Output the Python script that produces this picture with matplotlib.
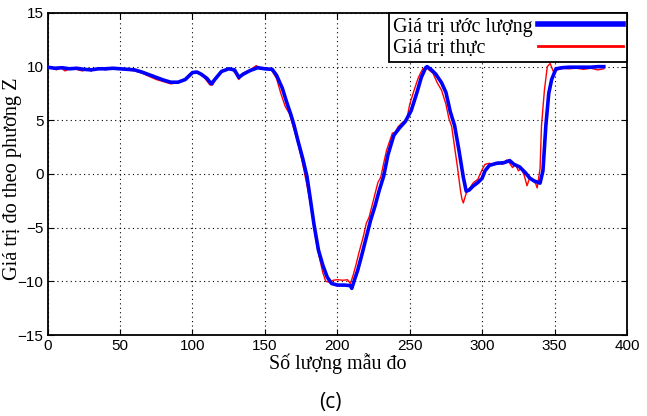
import matplotlib
matplotlib.use("Agg")
import matplotlib.pyplot as plt

# Estimated (blue) series: sample index, value
est_x = [0, 5, 10, 15, 20, 25, 30, 35, 40, 45, 50, 55, 60, 65, 70, 75, 80, 85, 90, 95,
         100, 103, 106, 110, 113, 116, 120, 125, 129, 132, 135, 140, 145, 150, 155, 158,
         162, 165, 168, 170, 173, 176, 179, 181, 184, 187, 190, 193, 196, 200, 205, 209,
         210, 212, 214, 217, 220, 223, 226, 229, 232, 235, 239, 243, 247, 251, 255, 258,
         261, 262, 265, 268, 272, 275, 278, 281, 284, 287, 289, 291, 294, 297, 300, 302,
         305, 310, 315, 319, 322, 326, 330, 333, 336, 340, 342, 344, 346, 348, 351, 355,
         360, 370, 375, 380, 384]
est_y = [9.95, 9.85, 9.9, 9.8, 9.85, 9.75, 9.7, 9.8, 9.8, 9.85, 9.8, 9.75, 9.7, 9.5, 9.25,
         9.0, 8.75, 8.55, 8.55, 8.8, 9.45, 9.5, 9.3, 8.9, 8.4, 8.9, 9.55, 9.8, 9.7, 9.0, 9.3,
         9.65, 9.9, 9.8, 9.75, 9.2, 8.0, 6.7, 5.5, 4.6, 3.0, 1.5, -0.2, -2.0, -4.8, -7.1,
         -8.5, -9.6, -10.2, -10.35, -10.35, -10.4, -10.65, -9.8, -9.0, -7.5, -5.9, -4.3,
         -3.0, -1.5, -0.2, 1.8, 3.6, 4.3, 4.9, 5.9, 7.6, 9.0, 9.9, 10.0, 9.7, 9.3, 8.5, 7.6,
         5.8, 4.5, 2.2, -0.3, -1.6, -1.5, -1.1, -0.8, -0.4, 0.3, 0.8, 1.0, 1.05, 1.25, 0.9,
         0.65, 0.1, -0.4, -0.65, -0.85, 0.3, 4.5, 7.5, 8.8, 9.8, 9.9, 9.95, 9.95, 9.95,
         10.0, 10.0]

# True (red) series
true_x = [0, 3, 6, 9, 12, 15, 18, 21, 24, 27, 30, 33, 36, 40, 45, 50, 55, 60, 65, 70, 75,
          80, 85, 90, 95, 98, 100, 104, 108, 112, 114, 117, 120, 124, 127, 130, 132, 135,
          140, 144, 147, 151, 155, 158, 161, 164, 167, 170, 173, 176, 179, 182, 184, 186,
          188, 190, 192, 195, 197, 200, 204, 207, 209, 211, 213, 215, 218, 220, 222, 225,
          228, 230, 232, 234, 236, 238, 240, 242, 245, 248, 250, 253, 256, 259, 262, 264,
          266, 269, 272, 275, 277, 279, 281, 283, 285, 286, 287, 289, 291, 294, 297, 300,
          302, 305, 308, 311, 314, 317, 319, 321, 323, 325, 327, 329, 331, 333, 335, 337,
          338, 340, 341, 343, 345, 347, 349, 352, 356, 360, 365, 370, 375, 380, 384]
true_y = [9.8, 9.9, 9.7, 9.9, 9.6, 9.8, 9.9, 9.7, 9.6, 9.75, 9.6, 9.8, 9.85, 9.7, 9.85,
          9.75, 9.7, 9.6, 9.4, 9.1, 8.8, 8.6, 8.4, 8.5, 8.9, 9.3, 9.5, 9.4, 9.0, 8.3, 8.3,
          9.1, 9.6, 9.75, 9.8, 9.3, 8.8, 9.4, 9.7, 10.1, 9.8, 9.9, 9.6, 8.9, 7.5, 6.3, 5.6,
          4.2, 2.8, 1.0, -1.0, -3.2, -5.0, -6.8, -8.0, -9.2, -10.0, -10.1, -9.9, -9.85,
          -9.9, -9.85, -10.2, -9.4, -8.4, -7.3, -5.8, -4.6, -4.0, -2.4, -0.8, -0.3, 1.0,
          2.2, 3.0, 3.8, 3.9, 4.4, 4.8, 5.1, 6.5, 7.8, 9.0, 9.8, 9.85, 9.6, 9.4, 8.5, 7.8,
          6.5, 5.2, 4.4, 2.5, 0.6, -1.5, -2.3, -2.7, -1.8, -1.4, -0.8, -0.5, 0.4, 0.9, 1.0,
          0.85, 1.1, 0.9, 1.3, 1.0, 0.6, 0.9, 0.3, 0.5, -0.1, -1.1, -0.3, -0.6, -0.9, -1.3,
          0.5, 4.5, 7.8, 10.0, 10.3, 9.6, 9.7, 9.85, 9.8, 9.85, 9.75, 9.85, 9.7, 9.8]

x_ticks = [0, 50, 100, 150, 200, 250, 300, 350, 400]
y_ticks = [-15, -10, -5, 0, 5, 10, 15]

fig = plt.figure(figsize=(6.47, 4.16), dpi=100)
ax = fig.add_axes([0.0737, 0.1947, 0.8953, 0.7741])

ax.plot(est_x, est_y, color="#0000ff", lw=2.6, label="Giá trị ước lượng", zorder=3)
ax.plot(true_x, true_y, color="#ff0000", lw=1.0, label="Giá trị thực", zorder=2)

ax.set_xlim(0, 400)
ax.set_ylim(-15, 15)
ax.set_xticks(x_ticks)
ax.set_yticks(y_ticks)
ax.tick_params(direction="in", top=True, right=True, length=4, labelsize=11,
               pad=3)
for lab in ax.get_xticklabels() + ax.get_yticklabels():
    lab.set_family("Liberation Sans")
ax.grid(True, color="black", linestyle=(0, (1, 3)), linewidth=0.8)
for s in ax.spines.values():
    s.set_linewidth(1.3)

ax.set_xlabel("Số lượng mẫu đo", family="Liberation Serif", fontsize=14.4, labelpad=0)
ax.set_ylabel("Giá trị đo theo phương Z", family="Liberation Serif", fontsize=14.6)
ax.yaxis.set_label_coords(-0.045, 0.485)

leg = ax.legend(loc="upper right", markerfirst=False, fancybox=False,
                prop={"family": "Liberation Serif", "size": 14.5},
                handlelength=4.2, borderaxespad=0, borderpad=0.22,
                labelspacing=0.1, framealpha=1, edgecolor="black",
                handletextpad=0.25)
leg.get_frame().set_linewidth(1.3)
leg.get_lines()[0].set_linewidth(4)
leg.get_lines()[1].set_linewidth(2)

# left-align the labels while keeping the handles in a right-hand column
fig.canvas.draw()
renderer = fig.canvas.get_renderer()
rows = []
for vp in leg._legend_handle_box.get_children():
    rows.extend(vp.get_children())
wmax = max(r.get_bbox(renderer).width for r in rows)
for vp in leg._legend_handle_box.get_children():
    vp.align = "left"
for r in rows:
    r.mode = "expand"
    r.width = wmax

fig.text(0.51, 0.008, "(c)", fontsize=15, family="Open Sans", ha="center",
         va="bottom")

fig.savefig("out.png", dpi=100)
